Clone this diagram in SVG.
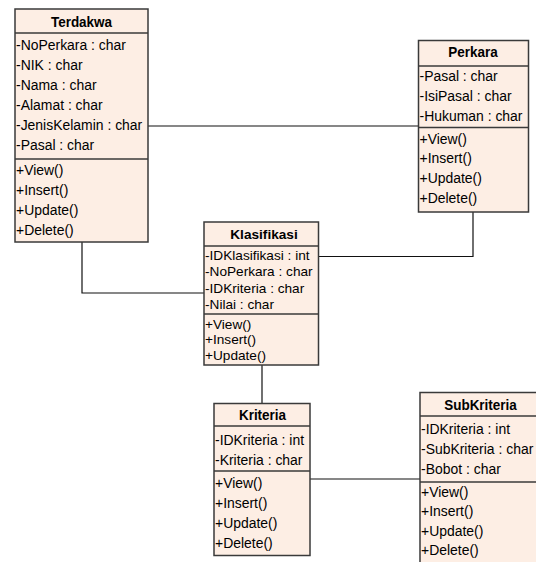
<svg xmlns="http://www.w3.org/2000/svg" width="536" height="562" viewBox="0 0 536 562">
<defs>
<style>
.box{fill:#fdeee4;stroke:#3a3a3a;stroke-width:1.5}
.div{stroke:#3a3a3a;stroke-width:1.5;fill:none}
.conn{stroke:#111;stroke-width:1.2;fill:none}
text{font-family:"Liberation Sans",Arial,sans-serif;fill:#000}
.t{font-weight:bold;font-size:15px;text-anchor:middle}
.a{font-size:15px}
.ks{font-size:13px}
.kt{font-weight:bold;font-size:13px;text-anchor:middle}
</style>
</defs>
<rect width="536" height="562" fill="#fff"/>
<g id="connectors">
<polyline class="conn" points="148,126 418,126"/>
<polyline class="conn" points="82,242 82,293 204,293"/>
<polyline class="conn" points="473,212 473,256.5 318,256.5"/>
<polyline class="conn" points="262,365 262,403"/>
<polyline class="conn" points="310,479 420,479"/>
</g>
<g id="Terdakwa">
<rect class="box" x="15" y="9" width="133" height="233"/>
<line class="div" x1="15" y1="33" x2="148" y2="33"/>
<line class="div" x1="15" y1="159" x2="148" y2="159"/>
<text class="t" transform="translate(81.5 26.5) scale(0.9 1)">Terdakwa</text>
<text class="a" transform="translate(16 49.5) scale(0.93 1)">-NoPerkara : char</text>
<text class="a" transform="translate(16 69.5) scale(0.93 1)">-NIK : char</text>
<text class="a" transform="translate(16 89.5) scale(0.93 1)">-Nama : char</text>
<text class="a" transform="translate(16 110) scale(0.93 1)">-Alamat : char</text>
<text class="a" transform="translate(16 130) scale(0.93 1)">-JenisKelamin : char</text>
<text class="a" transform="translate(16 150) scale(0.93 1)">-Pasal : char</text>
<text class="a" transform="translate(16 174.5) scale(0.93 1)">+View()</text>
<text class="a" transform="translate(16 194.5) scale(0.93 1)">+Insert()</text>
<text class="a" transform="translate(16 214.5) scale(0.93 1)">+Update()</text>
<text class="a" transform="translate(16 235) scale(0.93 1)">+Delete()</text>
</g>
<g id="Perkara">
<rect class="box" x="418.5" y="40.5" width="110" height="171.5"/>
<line class="div" x1="418.5" y1="66" x2="528.5" y2="66"/>
<line class="div" x1="418.5" y1="127.5" x2="528.5" y2="127.5"/>
<text class="t" transform="translate(473 56.5) scale(0.9 1)">Perkara</text>
<text class="a" transform="translate(419.5 81) scale(0.93 1)">-Pasal : char</text>
<text class="a" transform="translate(419.5 101) scale(0.93 1)">-IsiPasal : char</text>
<text class="a" transform="translate(419.5 121) scale(0.93 1)">-Hukuman : char</text>
<text class="a" transform="translate(419.5 143.5) scale(0.93 1)">+View()</text>
<text class="a" transform="translate(419.5 163) scale(0.93 1)">+Insert()</text>
<text class="a" transform="translate(419.5 183) scale(0.93 1)">+Update()</text>
<text class="a" transform="translate(419.5 203) scale(0.93 1)">+Delete()</text>
</g>
<g id="Klasifikasi">
<rect class="box" x="204" y="222" width="114.5" height="143"/>
<line class="div" x1="204" y1="246" x2="318.5" y2="246"/>
<line class="div" x1="204" y1="314" x2="318.5" y2="314"/>
<text class="kt" transform="translate(264 238.5) scale(1.05 1)">Klasifikasi</text>
<text class="ks" transform="translate(205 259.5) scale(1.05 1)">-IDKlasifikasi : int</text>
<text class="ks" transform="translate(205 276) scale(1.05 1)">-NoPerkara : char</text>
<text class="ks" transform="translate(205 292.5) scale(1.05 1)">-IDKriteria : char</text>
<text class="ks" transform="translate(205 309) scale(1.05 1)">-Nilai : char</text>
<text class="ks" transform="translate(205 328.5) scale(1.05 1)">+View()</text>
<text class="ks" transform="translate(205 344) scale(1.05 1)">+Insert()</text>
<text class="ks" transform="translate(205 359.5) scale(1.05 1)">+Update()</text>
</g>
<g id="Kriteria">
<rect class="box" x="214" y="403.5" width="96" height="152"/>
<line class="div" x1="214" y1="426" x2="310" y2="426"/>
<line class="div" x1="214" y1="471" x2="310" y2="471"/>
<text class="t" transform="translate(262.5 419.5) scale(0.9 1)">Kriteria</text>
<text class="a" transform="translate(215 444.5) scale(0.93 1)">-IDKriteria : int</text>
<text class="a" transform="translate(215 465) scale(0.93 1)">-Kriteria : char</text>
<text class="a" transform="translate(215 488) scale(0.93 1)">+View()</text>
<text class="a" transform="translate(215 508) scale(0.93 1)">+Insert()</text>
<text class="a" transform="translate(215 528) scale(0.93 1)">+Update()</text>
<text class="a" transform="translate(215 548) scale(0.93 1)">+Delete()</text>
</g>
<g id="SubKriteria">
<rect class="box" x="420" y="392.5" width="121" height="175"/>
<line class="div" x1="420" y1="416" x2="541" y2="416"/>
<line class="div" x1="420" y1="482" x2="541" y2="482"/>
<text class="t" transform="translate(480.5 410) scale(0.9 1)">SubKriteria</text>
<text class="a" transform="translate(421 433.5) scale(0.93 1)">-IDKriteria : int</text>
<text class="a" transform="translate(421 453.5) scale(0.93 1)">-SubKriteria : char</text>
<text class="a" transform="translate(421 474) scale(0.93 1)">-Bobot : char</text>
<text class="a" transform="translate(421 496.5) scale(0.93 1)">+View()</text>
<text class="a" transform="translate(421 516) scale(0.93 1)">+Insert()</text>
<text class="a" transform="translate(421 535.5) scale(0.93 1)">+Update()</text>
<text class="a" transform="translate(421 555) scale(0.93 1)">+Delete()</text>
</g>
</svg>
